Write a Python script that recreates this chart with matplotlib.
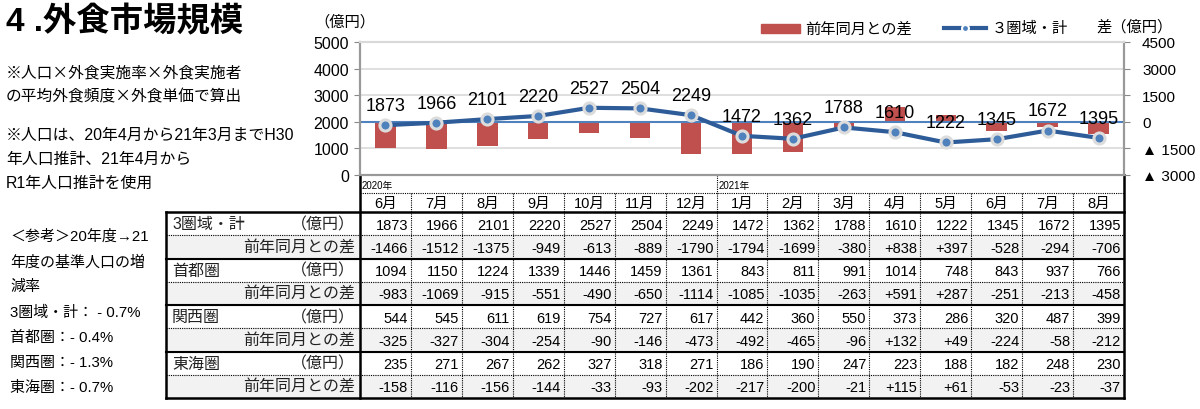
import numpy as np
import matplotlib.pyplot as plt
from matplotlib.patches import Rectangle
from matplotlib.lines import Line2D

plt.rcParams['font.family'] = ['Liberation Sans', 'Noto Sans CJK JP', 'DejaVu Sans']

months = ['6月', '7月', '8月', '9月', '10月', '11月', '12月',
          '1月', '2月', '3月', '4月', '5月', '6月', '7月', '8月']
total = [1873, 1966, 2101, 2220, 2527, 2504, 2249, 1472, 1362, 1788, 1610, 1222, 1345, 1672, 1395]
total_diff = [-1466, -1512, -1375, -949, -613, -889, -1790, -1794, -1699, -380, 838, 397, -528, -294, -706]
shuto = [1094, 1150, 1224, 1339, 1446, 1459, 1361, 843, 811, 991, 1014, 748, 843, 937, 766]
shuto_diff = [-983, -1069, -915, -551, -490, -650, -1114, -1085, -1035, -263, 591, 287, -251, -213, -458]
kansai = [544, 545, 611, 619, 754, 727, 617, 442, 360, 550, 373, 286, 320, 487, 399]
kansai_diff = [-325, -327, -304, -254, -90, -146, -473, -492, -465, -96, 132, 49, -224, -58, -212]
tokai = [235, 271, 267, 262, 327, 318, 271, 186, 190, 247, 223, 188, 182, 248, 230]
tokai_diff = [-158, -116, -156, -144, -33, -93, -202, -217, -200, -21, 115, 61, -53, -23, -37]
groups = ['3圏域・計', '首都圏', '関西圏', '東海圏']

notes = ['※人口×外食実施率×外食実施者', 'の平均外食頻度×外食単価で算出', '',
         '※人口は、20年4月から21年3月までH30', '年人口推計、21年4月から', 'R1年人口推計を使用']
ref_notes = ['＜参考＞20年度→21', '年度の基準人口の増', '減率', '3圏域・計： - 0.7%',
             '首都圏：- 0.4%', '関西圏：- 1.3%', '東海圏：- 0.7%']

W, H = 1200, 410
fig = plt.figure(figsize=(12, 4.1), dpi=100)

# background axes in pixel coords for text and table
bg = fig.add_axes([0, 0, 1, 1])
bg.set_xlim(0, W)
bg.set_ylim(H, 0)
bg.axis('off')

# chart area
L, R, T, B = 360, 1124, 43, 176
ax = fig.add_axes([L / W, 1 - B / H, (R - L) / W, (B - T) / H])
ax2 = ax.twinx()
ax.set_zorder(ax2.get_zorder() + 1)
ax.patch.set_visible(False)

x = np.arange(len(months))
red = '#C0504D'
blue = '#2E5C98'

ax2.set_ylim(-3000, 4500)
ax2.set_yticks([-3000, -1500, 0, 1500, 3000, 4500])
ax2.set_yticklabels(['▲ 3000', '▲ 1500', '0', '1500', '3000', '4500'], fontsize=11)
ax2.grid(axis='y', color='#d9d9d9', lw=1.2)
ax2.set_axisbelow(True)
ax2.bar(x, total_diff, width=0.4, color=red, zorder=2)
ax2.axhline(0, color='#4F81BD', lw=1.5, zorder=3)

ax.set_xlim(-0.5, len(months) - 0.5)
ax.set_ylim(0, 5000)
ax.set_yticks([0, 1000, 2000, 3000, 4000, 5000])
ax.tick_params(axis='y', labelsize=11.5, color='#888888', length=4, pad=4)
ax2.tick_params(axis='y', color='#888888', length=4, pad=9)
ax.set_xticks([])
ax.plot(x, total, color=blue, lw=3, zorder=4)
ax.plot(x, total, ls='none', marker='o', ms=8, mfc='#4F81BD', mec='#dcdcdc', mew=2.2, zorder=5)
for i, v in enumerate(total):
    ax.annotate(str(v), (i, v), xytext=(0, 8), textcoords='offset points',
                ha='center', va='bottom', fontsize=13)

for a in (ax, ax2):
    for s in a.spines.values():
        s.set_color('#999999')
        s.set_linewidth(1.5)
    a.spines['top'].set_color('#d9d9d9')

# titles and notes
bg.text(6, 22, '4 .外食市場規模', fontsize=24, fontweight='bold', va='center')
for k, t in enumerate(notes):
    bg.text(6, 73 + 24 * k + (0 if k < 3 else -10), t, fontsize=11.3 if k < 2 else 11.4,
            va='center', family=['Noto Sans CJK JP', 'DejaVu Sans'] if k < 2 else None)
for k, t in enumerate(ref_notes):
    bg.text(10, 237 + 25.2 * k, t, fontsize=10.8, va='center')

bg.text(345, 22, '（億円）', fontsize=11, va='center', ha='center')
bg.text(1173, 27, '差（億円）', fontsize=11, va='center', ha='right')

# legend
bg.add_patch(Rectangle((761, 25), 39, 9, color=red))
bg.text(805, 29, '前年同月との差', fontsize=11, va='center')
bg.add_line(Line2D([944, 986], [29, 29], color=blue, lw=3))
bg.plot([965], [29], marker='o', ms=5, mfc='#4F81BD', mec='white', mew=1.5)
bg.text(992, 29, '３圏域・計', fontsize=11, va='center')

# table
col_w = (R - L) / len(months)
top = 213
row_h = (399 - top) / 8
rows = []
for g, v, d in zip(groups, [total, shuto, kansai, tokai],
                   [total_diff, shuto_diff, kansai_diff, tokai_diff]):
    rows.append((g, v, False))
    rows.append(('前年同月との差', d, True))

for r, (name, vals, is_diff) in enumerate(rows):
    y0 = top + r * row_h
    yc = y0 + row_h / 2
    if is_diff:
        bg.add_patch(Rectangle((166, y0), R - 166, row_h, color='#f2f2f2', zorder=0))
        bg.text(355, yc, name, fontsize=11.5, va='center', ha='right', color='#222222')
    else:
        bg.text(172, yc, name, fontsize=11.5, va='center', ha='left', color='#222222')
        bg.text(355, yc, '（億円）', fontsize=11.5, va='center', ha='right', color='#222222')
    for i, v in enumerate(vals):
        s = ('+%d' % v) if (is_diff and v > 0) else str(v)
        bg.text(L + (i + 1) * col_w - 3, yc + 1, s, fontsize=10.5, va='center', ha='right')
    if r > 0:
        if r % 2 == 0:
            bg.plot([166, R], [y0, y0], color='black', lw=1.5)
        else:
            bg.plot([166, R], [y0, y0], color='black', lw=0.8, ls=(0, (1, 1)))

bg.plot([166, R], [top, top], color='black', lw=1.8)
bg.plot([166, R], [399, 399], color='black', lw=1.8)
bg.plot([166, 166], [top, 399], color='black', lw=1.8)
bg.plot([L, L], [B, 399], color='black', lw=1.8)
bg.plot([R, R], [B, 399], color='black', lw=1.8)
bg.plot([L, R], [194, 194], color='black', lw=0.8, ls=(0, (1, 1)))
for i in range(1, len(months)):
    xx = L + i * col_w
    y_start = B if i == 7 else 194
    bg.plot([xx, xx], [y_start, 399], color='black', lw=0.8, ls=(0, (1, 1)))
for i, m in enumerate(months):
    bg.text(L + (i + 0.5) * col_w, 204, m, fontsize=10.5, va='center', ha='center')
bg.text(L + 2, 186, '2020年', fontsize=7, va='center', ha='left')
bg.text(L + 7 * col_w + 2, 186, '2021年', fontsize=7, va='center', ha='left')

fig.savefig('out.png', dpi=100)
